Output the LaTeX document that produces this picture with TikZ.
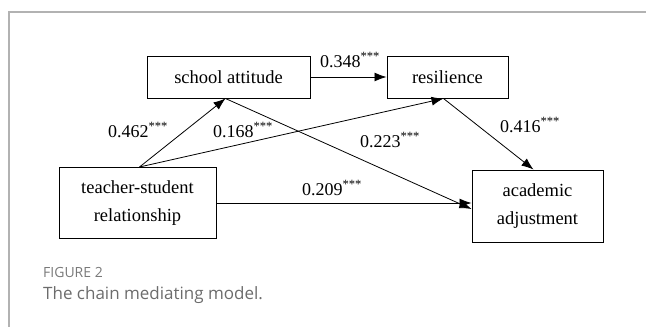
\documentclass[tikz,border=0pt]{standalone}
\usepackage{fontspec}
\setmainfont{Liberation Serif}
\newfontfamily\capfont{Open Sans}
\usepackage{tikz}
\usetikzlibrary{arrows.meta}

\begin{document}
\begin{tikzpicture}[x=1pt, y=-1pt,
	box/.style={draw, line width=1pt, align=center, inner sep=0pt, font=\fontsize{18.5}{28}\selectfont},
	coef/.style={inner sep=0pt, font=\fontsize{18}{20}\selectfont},
	path/.style={-{Latex[length=12pt, width=9pt]}, line width=0.8pt}]
			\useasboundingbox (0,0) rectangle (646,327);
			% frame
			\draw[gray!60, line width=1.5pt] (9,327) -- (9,12) -- (646,12);
			% variables
			\node[box, minimum width=163, minimum height=42] (school) at (228.5,77) {school attitude};
			\node[box, minimum width=121, minimum height=42] (resil) at (447.5,77) {resilience};
			\node[box, minimum width=157, minimum height=71] (teacher) at (137.5,203) {teacher-student\\relationship};
			\node[box, minimum width=131, minimum height=72] (adjust) at (537.5,206) {academic\\adjustment};
			% paths
			\draw[path] (school.east) -- (resil.west);
			\draw[path] ([xshift=2pt]teacher.north) -- ([xshift=-3pt]school.south);
			\draw[path] ([xshift=2pt]teacher.north) -- ([xshift=-4pt]resil.south);
			\draw[path] ([xshift=-3pt]school.south) -- ([yshift=-3pt]adjust.west);
			\draw[path] ([xshift=-4pt]resil.south) -- ([xshift=-4pt]adjust.north);
			\draw[path] (teacher.east) -- (teacher.east -| adjust.west);
			% coefficients
			\node[coef] (c1) at (350,60) {0.348\textsuperscript{***}};
			\node[coef] (c2) at (138,130) {0.462\textsuperscript{***}};
			\node[coef] (c3) at (243,130) {0.168\textsuperscript{***}};
			\node[coef] (c4) at (390,140) {0.223\textsuperscript{***}};
			\node[coef] (c5) at (530,125) {0.416\textsuperscript{***}};
			\node[coef] (c6) at (332,188) {0.209\textsuperscript{***}};
			% caption
			\node[anchor=west, inner sep=0pt, text=gray!95!black, font=\capfont\fontsize{14}{16}\selectfont] (fig) at (43,272) {FIGURE 2};
			\node[anchor=west, inner sep=0pt, text=gray!85!black, font=\capfont\fontsize{17}{19}\selectfont] (title) at (43,295) {The chain mediating model.};
		\end{tikzpicture}
\end{document}
